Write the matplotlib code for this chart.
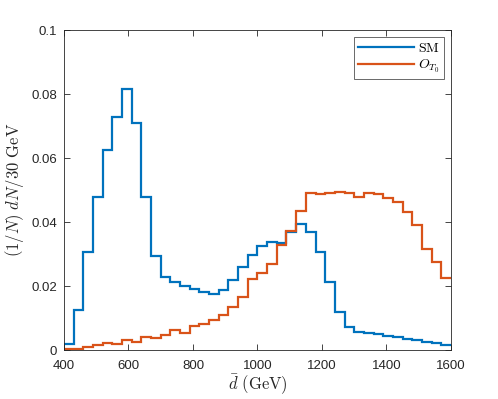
import numpy as np
import matplotlib
matplotlib.use("Agg")
import matplotlib.pyplot as plt

bin_edges = np.arange(400, 1601, 30)

sm = [0.0018, 0.0124, 0.0306, 0.0479, 0.0626, 0.0727, 0.0817, 0.0709, 0.0479, 0.0295,
      0.0228, 0.0213, 0.0199, 0.0192, 0.0181, 0.0176, 0.0189, 0.0220, 0.0259, 0.0298,
      0.0325, 0.0337, 0.0335, 0.0369, 0.0394, 0.0369, 0.0305, 0.0212, 0.0118, 0.0071,
      0.0057, 0.0054, 0.0049, 0.0045, 0.0040, 0.0035, 0.0031, 0.0024, 0.0021, 0.0017]

ot0 = [0.0002, 0.0004, 0.0008, 0.0016, 0.0023, 0.0019, 0.0031, 0.0024, 0.0041, 0.0036,
       0.0046, 0.0062, 0.0054, 0.0075, 0.0082, 0.0095, 0.0109, 0.0134, 0.0166, 0.0221,
       0.0240, 0.0270, 0.0328, 0.0372, 0.0435, 0.0490, 0.0488, 0.0491, 0.0493, 0.0492,
       0.0477, 0.0490, 0.0489, 0.0474, 0.0463, 0.0432, 0.0391, 0.0315, 0.0276, 0.0226]

xticks = [400, 600, 800, 1000, 1200, 1400, 1600]
yticks = [0, 0.02, 0.04, 0.06, 0.08, 0.1]
ytick_labels = ["0", "0.02", "0.04", "0.06", "0.08", "0.1"]

plt.rcParams['mathtext.fontset'] = 'cm'
plt.rcParams['font.family'] = ['Liberation Sans', 'DejaVu Sans']

fig = plt.figure(figsize=(4.98, 3.99), dpi=100)
ax = fig.add_axes([0.1285, 0.1228, 0.777, 0.802])

blue = '#0072BD'
orange = '#D95319'
ax.stairs(sm, bin_edges, color=blue, linewidth=1.6, baseline=None, label=r'$\mathrm{SM}$')
ax.stairs(ot0, bin_edges, color=orange, linewidth=1.6, baseline=None, label=r'$O_{T_0}$')

ax.set_xlim(400, 1600)
ax.set_ylim(0, 0.1)
ax.set_xticks(xticks)
ax.set_yticks(yticks)
ax.set_yticklabels(ytick_labels)

gray = '#262626'
for s in ax.spines.values():
    s.set_color(gray)
    s.set_linewidth(0.6)
ax.tick_params(direction='in', length=4, width=0.6, colors=gray, labelsize=9.5,
               top=True, right=True, labelcolor=gray)
ax.tick_params(axis='x', pad=7)
ax.tick_params(axis='y', pad=5)

ax.set_xlabel(r'$\bar{d}\ \mathrm{(GeV)}$', fontsize=12, color=gray, labelpad=1)
ax.set_ylabel(r'$(1/N)\ dN/30\ \mathrm{GeV}$', fontsize=12, color=gray, labelpad=4)

leg = ax.legend(loc='upper right', fontsize=10, frameon=True, fancybox=False,
                edgecolor=gray, handlelength=4.0, borderpad=0.3, labelspacing=0.2,
                handletextpad=0.3, borderaxespad=0.5)
leg.get_frame().set_linewidth(0.6)

fig.savefig('out.png', dpi=100)
